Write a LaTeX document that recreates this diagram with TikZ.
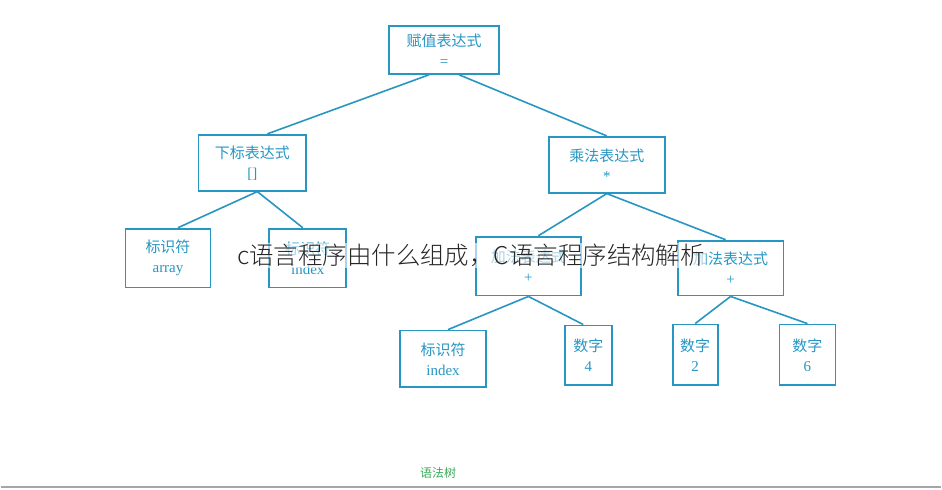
\documentclass[tikz,border=0pt]{standalone}
\usepackage{fontspec}
\newfontfamily\cjk{Noto Sans CJK SC}
\newfontfamily\cjkl{Noto Sans CJK SC Light}
\setmainfont{Liberation Serif}
\definecolor{bl}{RGB}{40,150,195}
\definecolor{gr}{RGB}{60,170,90}
\begin{document}
\begin{tikzpicture}[x=1pt,y=-1pt,
 bx/.style={draw=bl,line width=1.8pt,text=bl,align=center,font=\fontsize{15}{20}\selectfont,inner sep=0pt},
 ln/.style={bl,line width=1.6pt}]
\fill[white] (0,0) rectangle (942,490);
\draw[gray!70,line width=1.5pt] (0,488) -- (942,488);
\newcommand\bxx[6]{\node[bx,minimum width=#3-#2,minimum height=#5-#4] (#1) at ({(#2+#3)/2},{(#4+#5)/2}) {#6};}
\bxx{r}{389}{499}{26}{74}{{\cjk 赋值表达式}\\=}
\bxx{s}{198}{306}{135}{191}{{\cjk 下标表达式}\\{[}{]}}
\bxx{m}{549}{665}{137}{193}{{\cjk 乘法表达式}\\*}
\bxx{a}{125}{210}{229}{288}{{\cjk 标识符}\\array}
\bxx{i}{269}{346}{229}{288}{{\cjk 标识符}\\index}
\bxx{p}{476}{581}{237}{296}{{\cjk 加法表达式}\\+}
\bxx{q}{678}{784}{241}{296}{{\cjk 加法表达式}\\+}
\bxx{i2}{400}{486}{331}{388}{{\cjk 标识符}\\index}
\bxx{n4}{565}{612}{326}{386}{{\cjk 数字}\\4}
\bxx{n2}{673}{718}{325}{386}{{\cjk 数字}\\2}
\bxx{n6}{780}{836}{325}{386}{{\cjk 数字}\\6}
\draw[ln] ([xshift=-15pt]r.south) -- ([xshift=15pt]s.north);
\draw[ln] ([xshift=15pt]r.south) -- (m.north);
\draw[ln] ([xshift=5pt]s.south) -- ([xshift=10pt]a.north);
\draw[ln] ([xshift=5pt]s.south) -- ([xshift=-5pt]i.north);
\draw[ln] (m.south) -- ([xshift=10pt]p.north);
\draw[ln] (m.south) -- ([xshift=-5pt]q.north);
\draw[ln] (p.south) -- ([xshift=5pt]i2.north);
\draw[ln] (p.south) -- ([xshift=-5pt]n4.north);
\draw[ln] (q.south) -- (n2.north);
\draw[ln] (q.south) -- (n6.north);
\node[font=\cjkl\fontsize{24.5}{28}\selectfont,text=black!85,fill=white,fill opacity=0.6,text opacity=1,inner sep=1pt] (ov) at (471,256) {c语言程序由什么组成，C语言程序结构解析};
\node[font=\cjk\fontsize{12}{14}\selectfont,text=gr] (t) at (438,474) {语法树};
\end{tikzpicture}
\end{document}
